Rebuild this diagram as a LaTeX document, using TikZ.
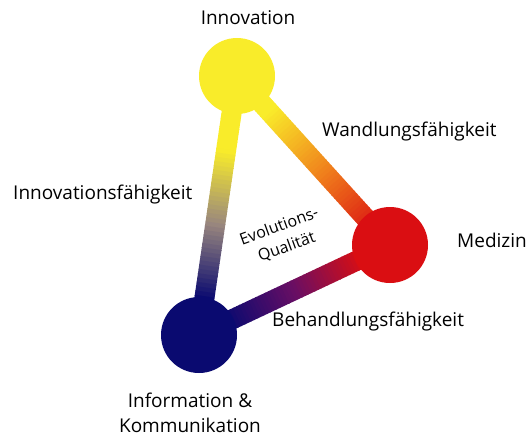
\documentclass[tikz,border=0pt]{standalone}
\usepackage{fontspec}
\setmainfont{Open Sans}
\usetikzlibrary{calc,backgrounds}

\definecolor{cyel}{RGB}{249,236,42}
\definecolor{cred}{RGB}{218,14,18}
\definecolor{cblue}{RGB}{10,10,112}
\definecolor{corange}{RGB}{240,128,28}
\definecolor{cgray}{RGB}{152,134,126}
\definecolor{cpurp}{RGB}{105,14,100}

\tikzset{
  ball/.style={circle, minimum size=76pt, inner sep=0pt},
  lbl/.style={inner sep=0pt, font=\fontsize{19}{25}\selectfont},
  bar/.style={line width=20pt, line cap=butt},
}

\begin{document}
\begin{tikzpicture}[x=1pt,y=1pt]
  \useasboundingbox (0,0) rectangle (532,440);

  % circles
  \node[ball, fill=cyel]  (inno) at (237,364) {};
  \node[ball, fill=cred]  (med)  at (390,195) {};
  \node[ball, fill=cblue] (ik)   at (199,105) {};

  % bars with colour gradient
  \begin{scope}[on background layer]
    \foreach \a/\b/\ca/\cm/\cb/\s/\e in {inno/med/cyel/corange/cred/0.2/0.92,
        inno/ik/cyel/cgray/cblue/0.28/0.85, ik/med/cblue/cpurp/cred/0.14/0.84}{
      \foreach \i in {0,...,59}{
        \pgfmathsetmacro\posA{\i/60}
        \pgfmathsetmacro\posB{\posA+0.02}
        \pgfmathtruncatemacro\p{200*min(1,max(0,(\posA-\s)/(\e-\s)))}
        \pgfmathtruncatemacro\q{\p-100}
        \ifnum\p<100 \def\col{\cm!\p!\ca}\else \def\col{\cb!\q!\cm}\fi
        \draw[bar, \col] ($(\a)!\posA!(\b)$) -- ($(\a)!\posB!(\b)$);
      }
    }
  \end{scope}

  % labels
  \node[lbl, anchor=base]      (tinno)  at (248,415) {Innovation};
  \node[lbl, anchor=base west] (twand)  at (322,304) {Wandlungsfähigkeit};
  \node[lbl, anchor=base west] (tinnof) at (13,241)  {Innovationsfähigkeit};
  \node[lbl, anchor=base west] (tmed)   at (457,193) {Medizin};
  \node[lbl, anchor=base west] (tbeh)   at (272,114) {Behandlungsfähigkeit};
  \node[lbl, anchor=north, align=center] (tik) at (190,47) {Information \&\\Kommunikation};

  \node[inner sep=0pt, rotate=20, align=center,
    font=\fontsize{16}{22}\selectfont] (tevo) at (283,203) {Evolutions-\\Qualität};

\end{tikzpicture}
\end{document}
